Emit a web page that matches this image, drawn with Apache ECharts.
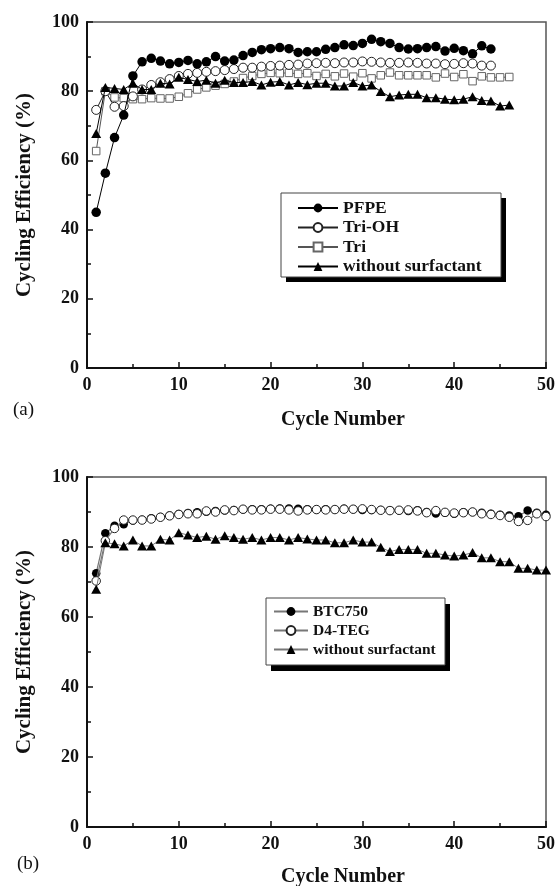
<!DOCTYPE html>
<html>
<head>
<meta charset="utf-8">
<script src="https://cdn.jsdelivr.net/npm/echarts@6/dist/echarts.min.js"></script>
<style>
html,body{margin:0;padding:0;background:#fff;}
#chart{width:558px;height:886px;}
</style>
</head>
<body>
<div id="chart"></div>
<script>
// ---- Data (panel a) ----
var cyclesA = [1,2,3,4,5,6,7,8,9,10,11,12,13,14,15,16,17,18,19,20,21,22,23,24,25,26,27,28,29,30,31,32,33,34,35,36,37,38,39,40,41,42,43,44,45,46];
var pfpe = [45.0,56.3,66.6,73.1,84.4,88.5,89.5,88.7,87.9,88.3,88.9,87.9,88.5,90.0,88.7,89.0,90.3,91.2,92.0,92.3,92.6,92.3,91.2,91.4,91.4,92.1,92.6,93.4,93.2,93.8,95.0,94.3,93.8,92.6,92.2,92.3,92.6,92.9,91.6,92.4,91.7,90.8,93.1,92.2];
var triOH = [74.6,80.0,75.5,75.7,78.5,80.5,81.8,82.6,83.5,84.4,85.0,85.3,85.6,85.8,86.1,86.4,86.8,86.8,87.1,87.3,87.4,87.6,87.7,88.0,88.1,88.2,88.1,88.3,88.3,88.6,88.5,88.3,88.2,88.2,88.3,88.2,88.0,88.0,87.8,87.9,88.1,88.0,87.4,87.4];
var tri = [62.7,80.0,78.2,78.0,77.7,77.7,78.0,77.9,77.9,78.4,79.4,80.5,81.1,81.6,82.1,82.8,83.8,84.4,85.0,85.3,85.2,85.3,85.0,85.2,84.4,85.0,84.3,85.1,84.2,85.2,83.7,84.6,85.4,84.6,84.6,84.6,84.6,84.0,85.1,84.1,84.9,82.9,84.3,84.0,84.0,84.1];
var withoutA = [67.8,81.1,80.8,80.5,82.3,80.5,80.5,82.3,82.1,84.0,83.4,82.8,83.2,82.3,83.2,82.5,82.5,82.8,81.8,82.6,82.8,81.8,82.5,81.9,82.3,82.3,81.5,81.5,82.5,81.5,81.8,79.9,78.4,78.9,79.1,79.1,78.1,78.1,77.7,77.5,77.7,78.4,77.3,77.2,75.7,76.0];

// ---- Data (panel b) ----
var cyclesB = [1,2,3,4,5,6,7,8,9,10,11,12,13,14,15,16,17,18,19,20,21,22,23,24,25,26,27,28,29,30,31,32,33,34,35,36,37,38,39,40,41,42,43,44,45,46,47,48,49,50];
var btc750 = [72.5,83.9,86.1,86.5,87.6,87.8,88.2,88.6,89.0,89.4,89.7,89.9,90.1,90.3,90.4,90.6,90.7,90.8,90.8,90.9,91.0,91.0,90.9,90.8,90.7,90.8,90.7,90.9,90.8,90.6,90.6,90.6,90.5,90.4,90.3,90.5,90.0,89.6,89.8,89.5,89.9,90.0,89.8,89.5,89.2,89.0,88.8,90.4,89.8,89.2];
var d4teg = [70.3,81.8,85.3,87.7,87.7,87.7,88.0,88.5,88.9,89.3,89.5,89.5,90.3,90.0,90.6,90.4,90.8,90.6,90.6,90.8,90.8,90.6,90.3,90.6,90.7,90.6,90.7,90.8,90.8,90.9,90.7,90.5,90.4,90.5,90.6,90.3,89.8,90.4,89.9,89.7,89.8,90.0,89.5,89.3,89.0,88.5,87.3,87.6,89.5,88.7];
var withoutB = [67.9,81.2,80.9,80.3,82.0,80.3,80.3,82.2,82.0,84.1,83.4,82.7,83.1,82.2,83.2,82.7,82.2,82.7,82.0,82.7,82.7,82.0,82.7,82.3,82.0,82.0,81.2,81.2,82.0,81.4,81.4,79.9,78.7,79.3,79.3,79.3,78.2,78.2,77.7,77.4,77.7,78.4,76.9,76.9,75.8,75.8,73.9,73.9,73.4,73.4];

var xTicks = [0,10,20,30,40,50];
var yTicks = [0,20,40,60,80,100];

function pairs(xs, ys){ return ys.map(function(v,i){ return [xs[i], v]; }); }

var serif = '"Liberation Serif", "DejaVu Serif", serif';

function xAxisCfg(gi){
  return {
    type:'value', gridIndex:gi, min:xTicks[0], max:xTicks[xTicks.length-1], interval:10,
    axisLine:{show:true, lineStyle:{color:'#111', width:2}},
    axisTick:{show:true, inside:true, length:6, lineStyle:{color:'#111', width:1.5}},
    minorTick:{show:true, splitNumber:2, length:4, lineStyle:{color:'#111', width:1.5}},
    splitLine:{show:false},
    axisLabel:{fontFamily:serif, fontWeight:'bold', fontSize:18, color:'#111', margin:8}
  };
}
function yAxisCfg(gi){
  return {
    type:'value', gridIndex:gi, min:yTicks[0], max:yTicks[yTicks.length-1], interval:20,
    name:'Cycling Efficiency (%)', nameLocation:'middle', nameRotate:90, nameGap:52,
    nameTextStyle:{fontFamily:serif, fontWeight:'bold', fontSize:21, color:'#111'},
    axisLine:{show:true, lineStyle:{color:'#111', width:2}},
    axisTick:{show:true, inside:true, length:6, lineStyle:{color:'#111', width:1.5}},
    minorTick:{show:true, splitNumber:2, length:4, lineStyle:{color:'#111', width:1.5}},
    splitLine:{show:false},
    axisLabel:{fontFamily:serif, fontWeight:'bold', fontSize:18, color:'#111', margin:8}
  };
}

var chart = echarts.init(document.getElementById('chart'), null, {renderer:'canvas'});
chart.setOption({
  animation:false,
  backgroundColor:'#fff',
  grid:[
    {left:87, top:22, width:460, height:346, show:true, borderColor:'#555', borderWidth:1.5, backgroundColor:'transparent'},
    {left:87, top:477, width:461, height:350, show:true, borderColor:'#555', borderWidth:1.5, backgroundColor:'transparent'}
  ],
  xAxis:[xAxisCfg(0), xAxisCfg(1)],
  yAxis:[yAxisCfg(0), yAxisCfg(1)],
  legend:[
    {
      data:['PFPE','Tri-OH','Tri','without surfactant'],
      orient:'vertical', left:281, top:193, z:20,
      padding:[6,22,3,16], itemGap:1.5, itemWidth:40, itemHeight:11,
      backgroundColor:'transparent', borderWidth:0,
      textStyle:{fontFamily:serif, fontWeight:'bold', fontSize:17.5, color:'#111', lineHeight:18},
      selectedMode:false
    },
    {
      data:['BTC750','D4-TEG','without surfactant '],
      orient:'vertical', left:266, top:598, z:20,
      padding:[5,11,5,7], itemGap:2, itemWidth:34, itemHeight:11,
      backgroundColor:'transparent', borderWidth:0,
      textStyle:{fontFamily:serif, fontWeight:'bold', fontSize:15.5, color:'#111', lineHeight:17},
      selectedMode:false
    }
  ],
  graphic:[
    {type:'rect', z:10, shape:{x:286, y:198, width:220, height:84}, style:{fill:'#000'}},
    {type:'rect', z:11, shape:{x:281, y:193, width:220, height:84}, style:{fill:'#fff', stroke:'#444', lineWidth:1}},
    {type:'rect', z:10, shape:{x:271, y:604, width:179, height:67}, style:{fill:'#000'}},
    {type:'rect', z:11, shape:{x:266, y:598, width:179, height:67}, style:{fill:'#fff', stroke:'#444', lineWidth:1}},
    {type:'text', left:13, top:401, style:{text:'(a)', font:'19px ' + serif, fill:'#111'}},
    {type:'text', left:17, top:855, style:{text:'(b)', font:'19px ' + serif, fill:'#111'}},
    {type:'text', x:343, y:420, style:{text:'Cycle Number', font:'bold 20px ' + serif, fill:'#111', align:'center', verticalAlign:'middle'}},
    {type:'text', x:343, y:877, style:{text:'Cycle Number', font:'bold 20px ' + serif, fill:'#111', align:'center', verticalAlign:'middle'}}
  ],
  series:[
    {name:'Tri', type:'line', xAxisIndex:0, yAxisIndex:0, data:pairs(cyclesA, tri), z:2,
      symbol:'rect', symbolSize:7.5,
      itemStyle:{color:'#fff', borderColor:'#666', borderWidth:1},
      lineStyle:{color:'#555', width:1}},
    {name:'Tri-OH', type:'line', xAxisIndex:0, yAxisIndex:0, data:pairs(cyclesA, triOH), z:3,
      symbol:'circle', symbolSize:9,
      itemStyle:{color:'#fff', borderColor:'#222', borderWidth:1},
      lineStyle:{color:'#222', width:1}},
    {name:'PFPE', type:'line', xAxisIndex:0, yAxisIndex:0, data:pairs(cyclesA, pfpe), z:4,
      symbol:'circle', symbolSize:9.5,
      itemStyle:{color:'#000', borderColor:'#000', borderWidth:0},
      lineStyle:{color:'#000', width:1}},
    {name:'without surfactant', type:'line', xAxisIndex:0, yAxisIndex:0, data:pairs(cyclesA, withoutA), z:5,
      symbol:'triangle', symbolSize:[10,9],
      itemStyle:{color:'#000', borderWidth:0},
      lineStyle:{color:'#000', width:1}},

    {name:'BTC750', type:'line', xAxisIndex:1, yAxisIndex:1, data:pairs(cyclesB, btc750), z:2,
      symbol:'circle', symbolSize:8.5,
      itemStyle:{color:'#000', borderWidth:0},
      lineStyle:{color:'#777', width:1.2}},
    {name:'D4-TEG', type:'line', xAxisIndex:1, yAxisIndex:1, data:pairs(cyclesB, d4teg), z:3,
      symbol:'circle', symbolSize:8.5,
      itemStyle:{color:'#fff', borderColor:'#222', borderWidth:1},
      lineStyle:{color:'#777', width:1.2}},
    {name:'without surfactant ', type:'line', xAxisIndex:1, yAxisIndex:1, data:pairs(cyclesB, withoutB), z:4,
      symbol:'triangle', symbolSize:[10,9],
      itemStyle:{color:'#000', borderWidth:0},
      lineStyle:{color:'#777', width:1}}
  ]
});
</script>
</body>
</html>
